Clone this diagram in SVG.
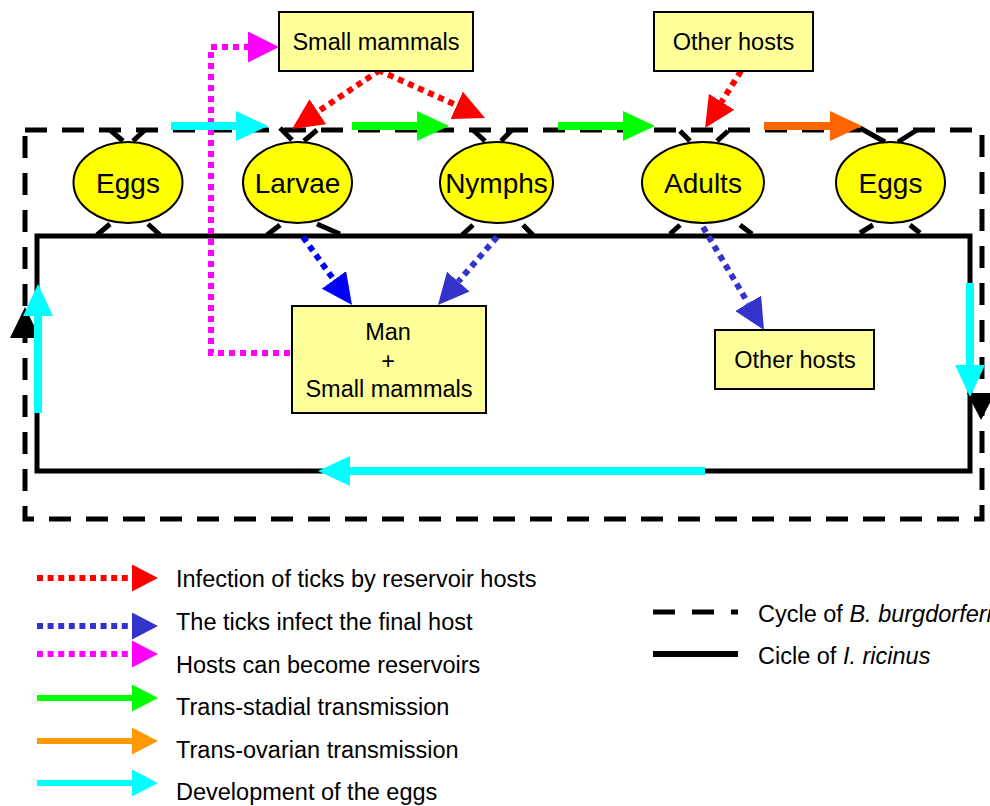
<svg xmlns="http://www.w3.org/2000/svg" width="990" height="806" viewBox="0 0 990 806">
  <style>
    .t { font-family: "Liberation Sans", Arial, sans-serif; fill: #000; }
    .box { fill: #FFFF99; stroke: #000; stroke-width: 2; }
    .stage { fill: #FFFF00; stroke: #000; stroke-width: 2; }
    .leg { stroke: #000; stroke-width: 5; fill: none; }
    .dot { fill: none; stroke-width: 6; stroke-dasharray: 6 5; }
    .solid { fill: none; stroke-width: 8; }
    .lgdot { fill: none; stroke-width: 6; stroke-dasharray: 6 4.6; }
    .lgsolid { fill: none; stroke-width: 6; }
  </style>
  <defs>
    <!-- arrowheads: reference point at the base, tip ahead of the path end -->
    <marker id="hRed" viewBox="0 0 31 30" refX="0" refY="15" markerWidth="31" markerHeight="30" markerUnits="userSpaceOnUse" orient="auto"><path d="M0,0 L31,15 L0,30 Z" fill="#FF0000"/></marker>
    <marker id="hBlue" viewBox="0 0 31 30" refX="0" refY="15" markerWidth="31" markerHeight="30" markerUnits="userSpaceOnUse" orient="auto"><path d="M0,0 L31,15 L0,30 Z" fill="#0000FF"/></marker>
    <marker id="hNavy" viewBox="0 0 31 30" refX="0" refY="15" markerWidth="31" markerHeight="30" markerUnits="userSpaceOnUse" orient="auto"><path d="M0,0 L31,15 L0,30 Z" fill="#3333CC"/></marker>
    <marker id="hMag" viewBox="0 0 31 31" refX="0" refY="15.5" markerWidth="31" markerHeight="31" markerUnits="userSpaceOnUse" orient="auto"><path d="M0,0 L31,15.5 L0,31 Z" fill="#FF00FF"/></marker>
    <marker id="hCyan" viewBox="0 0 32 30" refX="0" refY="15" markerWidth="32" markerHeight="30" markerUnits="userSpaceOnUse" orient="auto"><path d="M0,0 L32,15 L0,30 Z" fill="#00FFFF"/></marker>
    <marker id="hGreen" viewBox="0 0 32 30" refX="0" refY="15" markerWidth="32" markerHeight="30" markerUnits="userSpaceOnUse" orient="auto"><path d="M0,0 L32,15 L0,30 Z" fill="#00FF00"/></marker>
    <marker id="hOrange" viewBox="0 0 32 30" refX="0" refY="15" markerWidth="32" markerHeight="30" markerUnits="userSpaceOnUse" orient="auto"><path d="M0,0 L32,15 L0,30 Z" fill="#FF6600"/></marker>
    <!-- smaller legend heads -->
    <marker id="lRed" viewBox="0 0 26 27" refX="0" refY="13.5" markerWidth="26" markerHeight="27" markerUnits="userSpaceOnUse" orient="auto"><path d="M0,0 L26,13.5 L0,27 Z" fill="#FF0000"/></marker>
    <marker id="lNavy" viewBox="0 0 26 27" refX="0" refY="13.5" markerWidth="26" markerHeight="27" markerUnits="userSpaceOnUse" orient="auto"><path d="M0,0 L26,13.5 L0,27 Z" fill="#3333CC"/></marker>
    <marker id="lMag" viewBox="0 0 26 27" refX="0" refY="13.5" markerWidth="26" markerHeight="27" markerUnits="userSpaceOnUse" orient="auto"><path d="M0,0 L26,13.5 L0,27 Z" fill="#FF00FF"/></marker>
    <marker id="lGreen" viewBox="0 0 26 27" refX="0" refY="13.5" markerWidth="26" markerHeight="27" markerUnits="userSpaceOnUse" orient="auto"><path d="M0,0 L26,13.5 L0,27 Z" fill="#00FF00"/></marker>
    <marker id="lOrange" viewBox="0 0 26 27" refX="0" refY="13.5" markerWidth="26" markerHeight="27" markerUnits="userSpaceOnUse" orient="auto"><path d="M0,0 L26,13.5 L0,27 Z" fill="#FF9900"/></marker>
    <marker id="lCyan" viewBox="0 0 26 27" refX="0" refY="13.5" markerWidth="26" markerHeight="27" markerUnits="userSpaceOnUse" orient="auto"><path d="M0,0 L26,13.5 L0,27 Z" fill="#00FFFF"/></marker>
  </defs>

  <rect width="990" height="806" fill="#FFFFFF"/>

  <!-- cycles: dashed = bacterium, solid = tick -->
  <g id="cycles">
    <path d="M25,130 H982 V519 H25 Z" fill="none" stroke="#000" stroke-width="5" stroke-dasharray="22 15"/>
    <rect x="37" y="236" width="933" height="235" fill="none" stroke="#000" stroke-width="5"/>
    <path d="M10,338 L25,307 L40,338 Z" fill="#000"/>
    <path d="M967,393 L981,420 L995,393 Z" fill="#000"/>
  </g>

  <!-- tick legs joining each stage to both cycles -->
  <g id="legs" class="leg">
    <path d="M110,130 L123,141 M145,130 L133,141 M97,235 L110,224 M160,235 L148,224"/>
    <path d="M280,128 L292,140 M317,130 L304,141 M267,235 L280,225 M317,224 L340,234"/>
    <path d="M473,130 L485,141 M512,130 L501,141 M462,235 L473,225 M523,225 L533,235"/>
    <path d="M680,131 L690,141 M728,131 L717,141 M670,234 L680,225 M740,225 L752,234"/>
    <path d="M860,128 L885,142 M917,130 L898,142 M860,233 L873,225 M910,225 L920,233"/>
  </g>

  <g id="connectors">
    <!-- reservoir hosts infect ticks -->
    <path class="dot" stroke="#FF0000" d="M380,70 L317.8,111.7" marker-end="url(#hRed)"/>
    <path class="dot" stroke="#FF0000" d="M378,70 L456.7,105.3" marker-end="url(#hRed)"/>
    <path class="dot" stroke="#FF0000" d="M741,71 L721.6,101.8" marker-end="url(#hRed)"/>
    <!-- ticks infect final hosts -->
    <path class="dot" stroke="#0000FF" d="M303,237 L333.9,279.9" marker-end="url(#hBlue)"/>
    <path class="dot" stroke="#3333CC" d="M497,237 L458.3,281.6" marker-end="url(#hNavy)"/>
    <path class="dot" stroke="#3333CC" d="M703,227 L748.2,303.3" marker-end="url(#hNavy)"/>
    <!-- hosts become reservoirs -->
    <path class="dot" stroke="#FF00FF" d="M290,353 H211 V47 H248" marker-end="url(#hMag)"/>
    <!-- transmissions along the cycle -->
    <path class="solid" stroke="#00FFFF" d="M171,126 H236" marker-end="url(#hCyan)"/>
    <path class="solid" stroke="#00FF00" d="M352,126 H417" marker-end="url(#hGreen)"/>
    <path class="solid" stroke="#00FF00" d="M558,126 H623" marker-end="url(#hGreen)"/>
    <path class="solid" stroke="#FF6600" d="M764,126 H830" marker-end="url(#hOrange)"/>
    <!-- development of the eggs -->
    <path class="solid" stroke="#00FFFF" stroke-width="7" d="M970,283 V365" marker-end="url(#hCyan)"/>
    <path class="solid" stroke="#00FFFF" d="M705,471 H350" marker-end="url(#hCyan)"/>
    <path class="solid" stroke="#00FFFF" stroke-width="7" d="M38,413 V316" marker-end="url(#hCyan)"/>
  </g>

  <!-- life stages -->
  <g id="eggs1"><ellipse class="stage" cx="128" cy="182.5" rx="54.5" ry="40.5"/><text class="t" x="128" y="193" font-size="28" text-anchor="middle">Eggs</text></g>
  <g id="larvae"><ellipse class="stage" cx="297.5" cy="182.5" rx="54.5" ry="40.5"/><text class="t" x="297.5" y="193" font-size="28" text-anchor="middle">Larvae</text></g>
  <g id="nymphs"><ellipse class="stage" cx="496.5" cy="182.5" rx="56.5" ry="40.5"/><text class="t" x="496.5" y="193" font-size="28" text-anchor="middle">Nymphs</text></g>
  <g id="adults"><ellipse class="stage" cx="703" cy="182.5" rx="61" ry="40.5"/><text class="t" x="703" y="193" font-size="28" text-anchor="middle">Adults</text></g>
  <g id="eggs2"><ellipse class="stage" cx="890.5" cy="182.5" rx="54.5" ry="40.5"/><text class="t" x="890.5" y="193" font-size="28" text-anchor="middle">Eggs</text></g>

  <!-- hosts -->
  <g id="small-mammals"><rect class="box" x="279" y="12" width="194" height="59"/><text class="t" x="376" y="50" font-size="23.5" text-anchor="middle">Small mammals</text></g>
  <g id="other-hosts-top"><rect class="box" x="654" y="12" width="159" height="59"/><text class="t" x="733.5" y="50" font-size="23.5" text-anchor="middle">Other hosts</text></g>
  <g id="man-small-mammals"><rect class="box" x="292" y="306" width="194" height="107"/>
    <text class="t" font-size="23.5" text-anchor="middle"><tspan x="388" y="340">Man</tspan><tspan x="388" y="368.5">+</tspan><tspan x="389" y="397">Small mammals</tspan></text></g>
  <g id="other-hosts-bottom"><rect class="box" x="715" y="330" width="159" height="59"/><text class="t" x="795" y="368" font-size="23.5" text-anchor="middle">Other hosts</text></g>

  <!-- legend -->
  <g id="legend">
    <path class="lgdot" stroke="#FF0000" d="M37,578 H132" marker-end="url(#lRed)"/>
    <path class="lgdot" stroke="#3333CC" d="M37,626 H132" marker-end="url(#lNavy)"/>
    <path class="lgdot" stroke="#FF00FF" d="M37,654 H132" marker-end="url(#lMag)"/>
    <path class="lgsolid" stroke="#00FF00" d="M37,698 H132" marker-end="url(#lGreen)"/>
    <path class="lgsolid" stroke="#FF9900" d="M37,741 H132" marker-end="url(#lOrange)"/>
    <path class="lgsolid" stroke="#00FFFF" d="M37,783 H132" marker-end="url(#lCyan)"/>
    <g class="t" font-size="23.5">
      <text x="176" y="587">Infection of ticks by reservoir hosts</text>
      <text x="176" y="630">The ticks infect the final host</text>
      <text x="176" y="673">Hosts can become reservoirs</text>
      <text x="176" y="715">Trans-stadial transmission</text>
      <text x="176" y="758">Trans-ovarian transmission</text>
      <text x="176" y="800">Development of the eggs</text>
    </g>
    <path d="M653,612 H738" stroke="#000" stroke-width="5" stroke-dasharray="22 17"/>
    <path d="M653,654 H738" stroke="#000" stroke-width="6"/>
    <text class="t" x="758" y="622" font-size="23.5">Cycle of <tspan font-style="italic">B. burgdorferi</tspan></text>
    <text class="t" x="758" y="664" font-size="23.5">Cicle of <tspan font-style="italic">I. ricinus</tspan></text>
  </g>
</svg>
